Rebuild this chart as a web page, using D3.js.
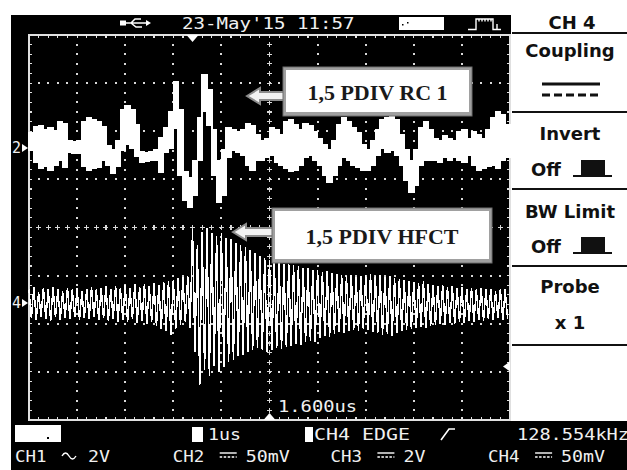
<!DOCTYPE html>
<html>
<head>
<meta charset="utf-8">
<script src="https://cdn.jsdelivr.net/npm/d3@7"></script>
<style>
  body { margin: 0; background: #fff; }
  svg { display: block; }
  .scr { font-family: "DejaVu Sans Mono", monospace; font-size: 15px; fill: #f0f0f0; }
  .menu { font-family: "DejaVu Sans", sans-serif; font-weight: bold; font-size: 18px; fill: #111; }
  .tag { font-family: "Liberation Serif", "Times New Roman", serif; font-weight: bold; font-size: 22px; fill: #1a1a1a; }
</style>
</head>
<body>
<svg id="scope" width="627" height="470"></svg>
<script>
// CH2 trace (RC sensor), max / min of each 0.1 us column, in mV
const ch2High = [16,22,23,19,21,18,27,25,8,6, 7,27,31,29,27,22,2,-2,8,40,
  44,40,24,-4,-5,-4,-2,11,21,38, 69,40,-25,-31,-13,31,76,60,19,-13,
  -2,21,19,17,19,25,23,14,8,10, 21,19,14,27,29,24,19,25,23,17,
  10,3,-2,8,24,31,27,21,16,3, -2,8,19,29,31,33,29,14,-2,-13,
  -2,21,27,19,10,8,13,10,8,17, 19,10,17,14,10,19,31,38,34,24];
const ch2Low = [-2,-15,-21,-19,-23,-18,-13,-20,-4,-5, -5,-19,-23,-21,-20,-13,-18,-26,-19,-2,
  4,0,-9,-15,-14,-13,-13,-25,-4,0, 21,-28,-54,-61,-49,-13,38,24,-28,-56,
  -49,-10,-2,-4,-7,-18,-23,-13,-13,-10, -7,-15,-18,-21,-24,-23,-18,-10,-7,-13,
  -18,-28,-36,-28,-18,-10,-13,-18,-20,-23, -23,-18,-7,0,-4,-2,-7,-18,-33,-46,
  -39,-18,-13,-13,-13,-15,-10,-13,-10,-13, -15,-7,-18,-23,-21,-19,-18,-21,-13,-10];

// CH4 trace (HFCT), crest and trough of each 0.1 us cycle, in mV
const ch4Peak = [14,17,11,16,14,17,15,12,16,14, 16,12,15,17,14,16,18,15,18,16,
  19,16,20,17,20,18,21,19,22,23, 24,26,27,28,77,60,74,78,73,70,
  73,68,66,62,60,58,55,52,49,47, 45,43,42,41,40,39,38,36,36,34,
  34,32,33,31,30,29,28,29,27,28, 29,30,28,29,27,28,26,25,24,23,
  22,21,23,20,19,18,19,17,18,16, 17,15,16,14,16,14,15,12,15,14];
const ch4Trough = [-16,-18,-14,-17,-19,-15,-18,-16,-17,-15, -18,-16,-17,-15,-18,-16,-19,-17,-20,-18,
  -20,-17,-21,-19,-22,-20,-24,-27,-29,-33, -27,-23,-20,-26,-51,-85,-70,-76,-65,-72,
  -66,-61,-59,-55,-54,-51,-49,-47,-49,-51, -49,-47,-48,-46,-45,-43,-44,-41,-39,-40,
  -36,-34,-35,-32,-30,-31,-29,-28,-29,-27, -28,-30,-31,-33,-32,-34,-31,-29,-28,-27,
  -26,-25,-26,-24,-23,-22,-23,-21,-22,-20, -21,-19,-20,-18,-19,-17,-18,-16,-18,-17];

const sampleStep = 0.1;      // us per column
const triggerDelay = 1.6;    // us
const triggerLevel = -66;    // mV on CH4

const channelNames = ["CH1", "CH2", "CH3", "CH4"];
const channelCoupling = ["AC", "DC", "DC", "DC"];
const channelScale = ["2V", "50mV", "2V", "50mV"];
const menuTitles = ["Coupling", "Invert", "BW Limit", "Probe"];
const menuValues = ["DC", "Off", "Off", "x 1"];
const tagTexts = ["1,5 PDIV RC 1", "1,5 PDIV HFCT"];
const timestamp = "23-May'15 11:57";
const timebase = "1us";
const triggerSource = "CH4 EDGE";
const triggerFreq = "128.554kHz";
const delayLabel = "1.600us";

const svg = d3.select("#scope");

// scales: 10 div of 1us across, 8 div vertically
const x = d3.scaleLinear().domain([0, 10]).range([29, 510]);
const gy = d3.scaleLinear().domain([-4, 4]).range([420, 35]);
const y2 = d3.scaleLinear().domain([0, 50]).range([148, 148 - 48.125]);
const y4 = d3.scaleLinear().domain([0, 50]).range([303, 303 - 48.125]);

// black screen areas
svg.append("rect").attr("x", 11).attr("y", 15).attr("width", 500).attr("height", 410).attr("fill", "#000");
svg.append("rect").attr("x", 11).attr("y", 421).attr("width", 616).attr("height", 49).attr("fill", "#000");

// small helper for the stretched scope font
function scrText(str, x0, y0, pitch) {
  return svg.append("text").attr("class", "scr")
    .attr("x", x0).attr("y", y0)
    .attr("textLength", str.length * pitch)
    .attr("lengthAdjust", "spacingAndGlyphs")
    .text(str);
}

// ---- graticule
const grid = svg.append("g").attr("shape-rendering", "crispEdges");
const minorX = d3.range(0, 10.001, 0.2);
const minorY = d3.range(-4, 4.001, 0.2);
const dotCol = "#d8d8d8";

x.ticks(10).filter(t => t > 0 && t < 10 && t !== 5).forEach(t => {
  grid.selectAll(null).data(minorY.slice(1, -1)).join("rect")
    .attr("x", x(t) - 1).attr("y", d => gy(d) - 1)
    .attr("width", 2).attr("height", 2).attr("fill", dotCol);
});
gy.ticks(8).filter(t => t > -4 && t < 4 && t !== 0).forEach(t => {
  grid.selectAll(null).data(minorX.slice(1, -1)).join("rect")
    .attr("x", d => x(d) - 1).attr("y", gy(t) - 1)
    .attr("width", 2).attr("height", 2).attr("fill", dotCol);
});
// centre lines with crosses
const crossPath = (cx, cy) => `M${cx - 2.5},${cy}H${cx + 2.5}M${cx},${cy - 2.5}V${cy + 2.5}`;
grid.append("path")
  .attr("d", minorX.slice(1, -1).map(d => crossPath(x(d), gy(0))).join("") +
             minorY.slice(1, -1).map(d => crossPath(x(5), gy(d))).join(""))
  .attr("stroke", dotCol).attr("stroke-width", 1.2).attr("fill", "none");
// border + inward ticks
grid.append("rect").attr("x", x(0)).attr("y", gy(4)).attr("width", x(10) - x(0)).attr("height", gy(-4) - gy(4))
  .attr("fill", "none").attr("stroke", "#e0e0e0").attr("stroke-width", 1.5);
grid.append("path")
  .attr("d", minorX.map(d => `M${x(d)},${gy(4)}v3M${x(d)},${gy(-4)}v-3`).join("") +
             minorY.map(d => `M${x(0)},${gy(d)}h3M${x(10)},${gy(d)}h-3`).join(""))
  .attr("stroke", "#e0e0e0").attr("stroke-width", 1.2);

// ---- traces
const ch2 = ch2High.map((h, i) => ({ t: i * sampleStep, hi: h, lo: ch2Low[i] }));
ch2.push({ t: 10, hi: ch2High[ch2High.length - 1], lo: ch2Low[ch2Low.length - 1] });
svg.append("path")
  .datum(ch2)
  .attr("d", d3.area().x(d => x(d.t)).y0(d => y2(d.lo)).y1(d => y2(d.hi)).curve(d3.curveStepAfter))
  .attr("fill", "#fff").attr("stroke", "#fff").attr("stroke-width", 1.6)
  .attr("shape-rendering", "crispEdges");

const ch4 = ch4Peak.flatMap((p, i) => [
  { t: i * sampleStep, v: p },
  { t: i * sampleStep + sampleStep / 2, v: ch4Trough[i] }
]);
svg.append("path")
  .datum(ch4)
  .attr("d", d3.line().x(d => x(d.t)).y(d => y4(d.v)))
  .attr("fill", "none").attr("stroke", "#fff").attr("stroke-width", 1.5)
  .attr("shape-rendering", "crispEdges");

// ---- markers
// trigger position (top) and delay reference (bottom)
const tx = x(5 - triggerDelay);
svg.append("path").attr("d", `M${tx - 6},${gy(4)}L${tx + 6},${gy(4)}L${tx},${gy(4) + 7}Z`).attr("fill", "#fff");
svg.append("path").attr("d", `M${x(5) - 6},${gy(-4)}L${x(5) + 6},${gy(-4)}L${x(5)},${gy(-4) - 7}Z`).attr("fill", "#fff");
scrText(delayLabel, 278, 412, 11.3);
// trigger level
const tl = y4(triggerLevel);
svg.append("path").attr("d", `M${x(10)},${tl - 5}V${tl + 5}L${x(10) - 7},${tl}Z`).attr("fill", "#fff");
// channel ground markers
[[2, y2(0)], [4, y4(0)]].forEach(([n, yy]) => {
  svg.append("text").attr("class", "scr").attr("x", 12).attr("y", yy + 5).attr("font-size", 13).text(n);
  svg.append("path").attr("d", `M22,${yy - 4}L28,${yy}L22,${yy + 4}Z`).attr("fill", "#fff");
});

// ---- callout boxes
function callout(label, bx, by, bw, bh, tipX, tipY) {
  const g = svg.append("g");
  g.append("path")
    .attr("d", `M${tipX},${tipY}L${tipX + 13},${tipY - 8}V${tipY - 4}H${bx + 2}V${tipY + 4}H${tipX + 13}V${tipY + 8}Z`)
    .attr("fill", "#f2f2f2").attr("stroke", "#8c8c8c").attr("stroke-width", 2);
  g.append("rect").attr("x", bx).attr("y", by).attr("width", bw).attr("height", bh)
    .attr("fill", "#a0a0a0").attr("stroke", "#6e6e6e").attr("stroke-width", 1);
  g.append("rect").attr("x", bx + 3).attr("y", by + 3).attr("width", bw - 6).attr("height", bh - 7)
    .attr("fill", "#fff");
  g.append("text").attr("class", "tag").attr("x", bx + bw / 2).attr("y", by + bh / 2 + 8)
    .attr("text-anchor", "middle").text(label);
}
callout(tagTexts[0], 283, 67, 189, 49, 247, 96);
callout(tagTexts[1], 272, 208, 220, 55, 233, 232);

// ---- top status bar
// usb icon
svg.append("path")
  .attr("d", "M126,23H148M131,23L135,19H141M131,23L136,27H142")
  .attr("stroke", "#fff").attr("stroke-width", 1.5).attr("fill", "none");
svg.append("rect").attr("x", 120).attr("y", 20.5).attr("width", 6).attr("height", 5).attr("fill", "#fff");
svg.append("path").attr("d", "M146,20L151,23L146,26Z").attr("fill", "#fff");
scrText(timestamp, 182, 28.5, 11.5);
svg.append("rect").attr("x", 399).attr("y", 17).attr("width", 45).attr("height", 13).attr("fill", "#fff");
svg.append("rect").attr("x", 402).attr("y", 24).attr("width", 1.5).attr("height", 1.5).attr("fill", "#000");
svg.append("rect").attr("x", 407).attr("y", 22).attr("width", 1.5).attr("height", 1.5).attr("fill", "#000");
svg.append("path")
  .attr("d", "M468,29.5H476V19H493V29.5H501M479,19v2.5M482,19v2.5M485,19v2.5M488,19v2.5M491,19v2.5M497,24V29.5")
  .attr("stroke", "#fff").attr("stroke-width", 1.4).attr("fill", "none");

// ---- side menu
const panel = svg.append("g");
[33, 112, 189, 266, 345].forEach(ly => {
  panel.append("line").attr("x1", 512).attr("x2", 627).attr("y1", ly).attr("y2", ly)
    .attr("stroke", "#111").attr("stroke-width", 2);
});
panel.append("text").attr("class", "menu").attr("x", 572).attr("y", 29).attr("text-anchor", "middle").text("CH 4");
const titleY = [57, 140, 218, 293];
const valueY = [90, 176, 253, 329];
menuTitles.forEach((t, i) => {
  panel.append("text").attr("class", "menu").attr("x", 570).attr("y", titleY[i]).attr("text-anchor", "middle").text(t);
  const v = menuValues[i];
  if (v === "DC") {
    panel.append("line").attr("x1", 542).attr("x2", 600).attr("y1", valueY[i] - 6).attr("y2", valueY[i] - 6)
      .attr("stroke", "#111").attr("stroke-width", 3);
    panel.append("line").attr("x1", 542).attr("x2", 600).attr("y1", valueY[i] + 5).attr("y2", valueY[i] + 5)
      .attr("stroke", "#111").attr("stroke-width", 3).attr("stroke-dasharray", "8,4");
  } else if (v === "Off") {
    panel.append("text").attr("class", "menu").attr("x", 531).attr("y", valueY[i]).text(v);
    panel.append("rect").attr("x", 581).attr("y", valueY[i] - 16).attr("width", 24).attr("height", 16).attr("fill", "#111");
    panel.append("line").attr("x1", 573).attr("x2", 612).attr("y1", valueY[i]).attr("y2", valueY[i])
      .attr("stroke", "#111").attr("stroke-width", 2);
  } else {
    panel.append("text").attr("class", "menu").attr("x", 570).attr("y", valueY[i]).attr("text-anchor", "middle").text(v);
  }
});

// ---- bottom status bar
svg.append("rect").attr("x", 15).attr("y", 425).attr("width", 46).attr("height", 17).attr("fill", "#fff");
svg.append("rect").attr("x", 47).attr("y", 437).attr("width", 2).attr("height", 2).attr("fill", "#000");
svg.append("rect").attr("x", 192).attr("y", 427).attr("width", 11).attr("height", 15).attr("fill", "#fff");
scrText(timebase, 208, 440, 11);
svg.append("rect").attr("x", 305).attr("y", 427).attr("width", 8).attr("height", 15).attr("fill", "#fff");
scrText(triggerSource, 314, 440, 12);
svg.append("path").attr("d", "M441,440L449,429H455").attr("stroke", "#fff").attr("stroke-width", 1.6).attr("fill", "none");
scrText(triggerFreq, 517, 440, 11.2);

channelNames.forEach((name, i) => {
  const cx = 15 + i * 157.7;
  scrText(name, cx, 462, 10.5);
  const sx = cx + 47;
  if (channelCoupling[i] === "AC") {
    svg.append("path").attr("d", `M${sx},${456}q3.5,-6 7,0t7,0`)
      .attr("stroke", "#fff").attr("stroke-width", 1.4).attr("fill", "none");
  } else {
    svg.append("line").attr("x1", sx).attr("x2", sx + 17).attr("y1", 453).attr("y2", 453)
      .attr("stroke", "#fff").attr("stroke-width", 1.4);
    svg.append("line").attr("x1", sx).attr("x2", sx + 17).attr("y1", 457).attr("y2", 457)
      .attr("stroke", "#fff").attr("stroke-width", 1.4).attr("stroke-dasharray", "2.5,1.5");
  }
  scrText(channelScale[i], cx + 73, 462, 11);
});
</script>
</body>
</html>
